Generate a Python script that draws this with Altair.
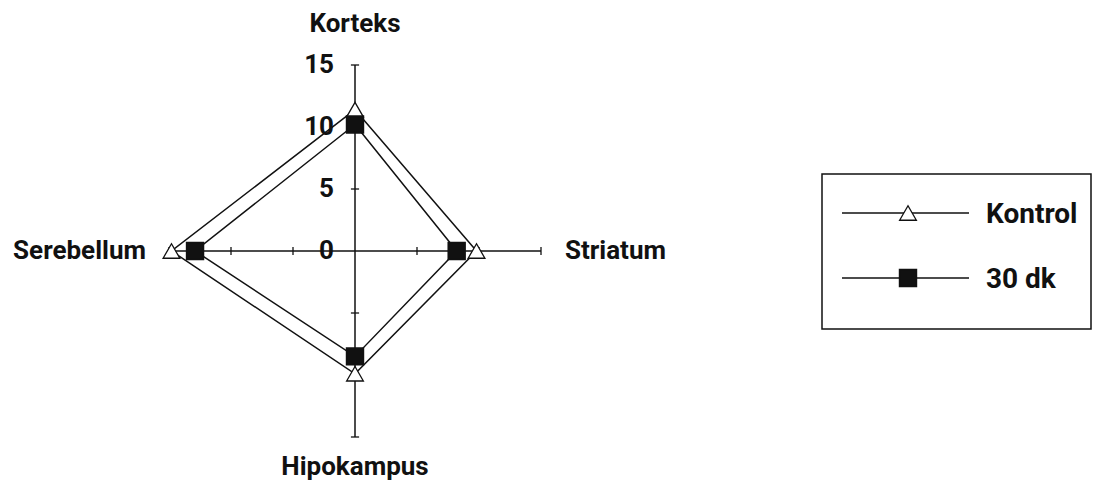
import altair as alt
import pandas as pd

# ---- data ----
categories = ["Korteks", "Striatum", "Hipokampus", "Serebellum"]
series = ["Kontrol", "30 dk"]
kontrol = [11.4, 9.8, 9.9, 14.8]
dk30 = [10.2, 8.2, 8.5, 12.9]
tick_values = [0, 5, 10, 15]
axis_max = 15

# ---- layout (pixels) ----
W, H = 1085, 487
K = 12.4                      # pixels per unit
CX, CY = 347, 243             # centre in plot coords
FONT = "Roboto"
INK = "#111111"

xdom = [-CX / K, (W - CX) / K]
ydom = [-(H - CY) / K, CY / K]
xs = alt.Scale(domain=xdom, nice=False, zero=False)
ys = alt.Scale(domain=ydom, nice=False, zero=False)

dirs = {"Korteks": (0, 1), "Striatum": (1, 0), "Hipokampus": (0, -1), "Serebellum": (-1, 0)}

# polygon rows
rows = []
for s, vals in zip(series, [kontrol, dk30]):
    for i, (c, v) in enumerate(zip(categories + [categories[0]], vals + [vals[0]])):
        dx, dy = dirs[c]
        rows.append({"series": s, "cat": c, "x": dx * v, "y": dy * v, "order": i, "end": i == len(categories)})
poly = pd.DataFrame(rows)
pts = poly[~poly["end"]]

# spokes
spokes = pd.DataFrame([{"cat": c, "x": 0.0, "y": 0.0, "x2": dirs[c][0] * axis_max, "y2": dirs[c][1] * axis_max}
                       for c in categories])
# tick marks
half = 0.33
trows = []
for c in categories:
    dx, dy = dirs[c]
    px, py = -dy, dx
    for v in tick_values[1:]:
        cx, cy = dx * v, dy * v
        trows.append({"x": cx - px * half, "y": cy - py * half, "x2": cx + px * half, "y2": cy + py * half})
ticks = pd.DataFrame(trows)
tlabels = pd.DataFrame({"x": [0.0] * len(tick_values), "y": tick_values, "t": [str(v) for v in tick_values]})

X = lambda f: alt.X(f, type="quantitative", scale=xs, axis=None)
Y = lambda f: alt.Y(f, type="quantitative", scale=ys, axis=None)

spoke_layer = alt.Chart(spokes).mark_rule(color=INK, strokeWidth=1.5).encode(
    x=X("x"), y=Y("y"), x2="x2", y2="y2")
tick_layer = alt.Chart(ticks).mark_rule(color=INK, strokeWidth=1.3).encode(
    x=X("x"), y=Y("y"), x2="x2", y2="y2")
tlabel_layer = alt.Chart(tlabels).mark_text(
    align="right", baseline="middle", dx=-21, font=FONT, fontWeight="bold", fontSize=26, color=INK
).encode(x=X("x"), y=Y("y"), text="t:N")

line_layer = alt.Chart(poly).mark_line(color=INK, strokeWidth=1.5).encode(
    x=X("x"), y=Y("y"), detail="series:N", order="order:Q")

tri_layer = alt.Chart(pts[pts["series"] == series[0]]).mark_point(
    shape="triangle-up", filled=True, fill="white", stroke=INK, strokeWidth=1.3, size=280, opacity=1
).encode(x=X("x"), y=Y("y"))
sq_layer = alt.Chart(pts[pts["series"] == series[1]]).mark_point(
    shape="square", filled=True, fill=INK, stroke=INK, size=270, opacity=1
).encode(x=X("x"), y=Y("y"))

# category labels
cat_style = {
    "Korteks": dict(align="center", baseline="alphabetic", dy=-33),
    "Striatum": dict(align="left", baseline="middle", dx=24),
    "Hipokampus": dict(align="center", baseline="alphabetic", dy=38),
    "Serebellum": dict(align="right", baseline="middle", dx=-23),
}
cat_layers = []
for c in categories:
    d = pd.DataFrame([{"x": dirs[c][0] * axis_max, "y": dirs[c][1] * axis_max, "t": c}])
    cat_layers.append(alt.Chart(d).mark_text(
        font=FONT, fontWeight="bold", fontSize=26, color=INK, **cat_style[c]
    ).encode(x=X("x"), y=Y("y"), text="t:N"))

# legend (drawn)
one = pd.DataFrame({"a": [0]})
legend_box = alt.Chart(one).mark_rect(filled=False, stroke=INK, strokeWidth=1.5).encode(
    x=alt.value(814), x2=alt.value(1083), y=alt.value(166), y2=alt.value(321))
legend_layers = [legend_box]
leg_y = [205, 270]
for i, s in enumerate(series):
    d = pd.DataFrame({"series": [s]})
    legend_layers.append(alt.Chart(d).mark_rule(color=INK, strokeWidth=1.5).encode(
        x=alt.value(834), x2=alt.value(961), y=alt.value(leg_y[i])))
    if i == 0:
        mk = alt.Chart(d).mark_point(shape="triangle-up", filled=True, fill="white", stroke=INK,
                                     strokeWidth=1.3, size=280, opacity=1)
    else:
        mk = alt.Chart(d).mark_point(shape="square", filled=True, fill=INK, stroke=INK, size=270, opacity=1)
    legend_layers.append(mk.encode(x=alt.value(900), y=alt.value(leg_y[i])))
    legend_layers.append(alt.Chart(d).mark_text(
        align="left", baseline="middle", font=FONT, fontWeight="bold", fontSize=28, color=INK
    ).encode(x=alt.value(978), y=alt.value(leg_y[i] + 2), text="series:N"))

chart = alt.layer(
    spoke_layer, tick_layer, line_layer, tri_layer, sq_layer, tlabel_layer, *cat_layers, *legend_layers
).properties(
    width=W, height=H, autosize=alt.AutoSizeParams(type="none"), padding=0, background="white"
).configure_view(stroke=None)

chart.save("out.html", embed_options={"renderer": "svg", "actions": False})
